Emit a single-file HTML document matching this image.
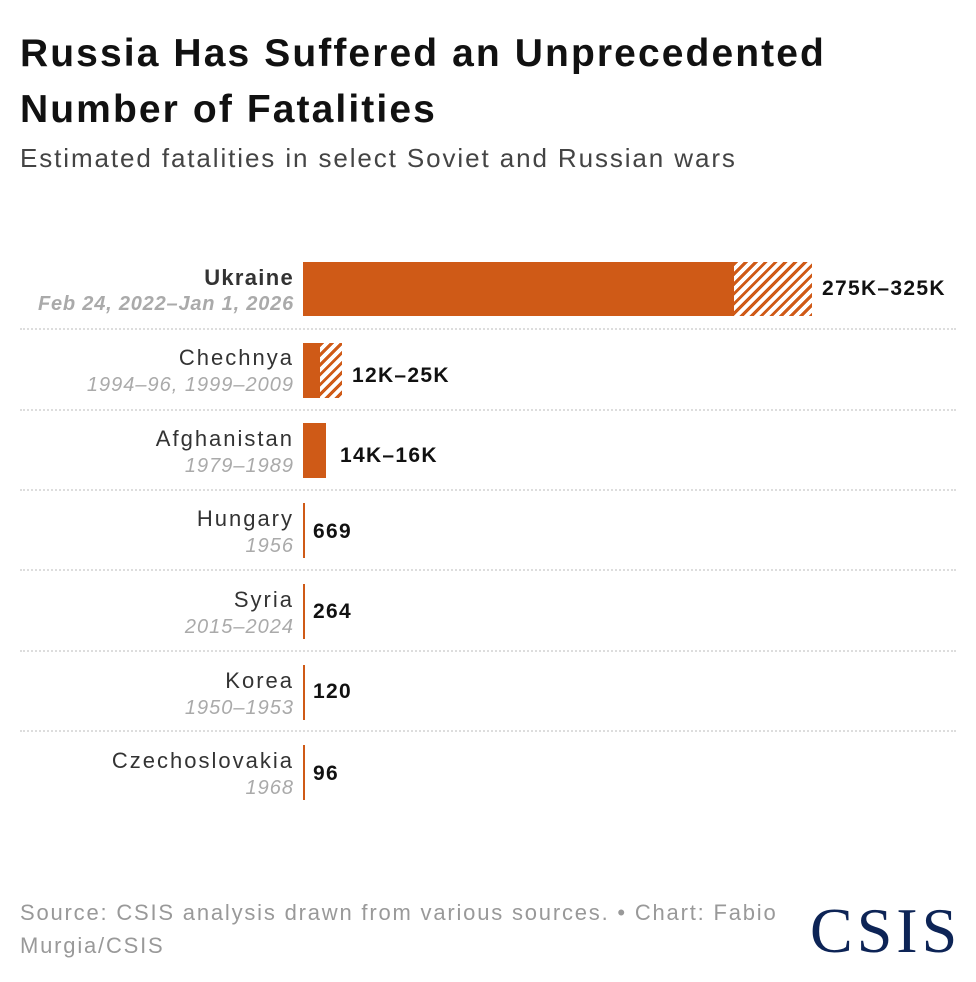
<!DOCTYPE html>
<html><head><meta charset="utf-8"><style>
body{margin:0;background:#fff;width:976px;height:982px;overflow:hidden;font-family:"Liberation Sans",sans-serif;position:relative}
.a{position:absolute;white-space:nowrap}
.t{left:20px;font-size:39px;letter-spacing:2.1px;font-weight:bold;color:#111}
.n{right:682px;font-size:22px;letter-spacing:2px;color:#333;text-align:right}
.y{right:682px;font-size:20px;letter-spacing:1px;color:#aaa;font-style:italic;text-align:right}
.v{font-size:21px;letter-spacing:1.3px;font-weight:bold;color:#111}
.sep{position:absolute;left:20px;width:936px;border-top:2px dotted #ddd;height:0}
.bar{position:absolute;background:#cf5a17}
.h{position:absolute;background:repeating-linear-gradient(135deg,#cf5a17 0 3px,#fff 3px 7px)}
</style></head><body>
<div class="a t" style="top:32px">Russia Has Suffered an Unprecedented</div>
<div class="a t" style="top:88px">Number of Fatalities</div>
<div class="a" style="left:20px;top:143px;font-size:26px;letter-spacing:1.9px;color:#444">Estimated fatalities in select Soviet and Russian wars</div>

<div class="a n" style="top:265px;font-weight:bold;letter-spacing:1.3px">Ukraine</div>
<div class="a y" style="top:293px;font-weight:bold;letter-spacing:0.8px">Feb 24, 2022–Jan 1, 2026</div>
<div class="bar" style="left:303px;top:262px;width:431px;height:54px"></div>
<div class="h" style="left:734px;top:262px;width:78px;height:54px"></div>
<div class="a v" style="left:822px;top:277px">275K–325K</div>
<div class="sep" style="top:328px"></div>

<div class="a n" style="top:345px">Chechnya</div>
<div class="a y" style="top:374px">1994–96, 1999–2009</div>
<div class="bar" style="left:303px;top:343px;width:17px;height:55px"></div>
<div class="h" style="left:320px;top:343px;width:22px;height:55px"></div>
<div class="a v" style="left:352px;top:364px">12K–25K</div>
<div class="sep" style="top:409px"></div>

<div class="a n" style="top:426px">Afghanistan</div>
<div class="a y" style="top:455px">1979–1989</div>
<div class="bar" style="left:303px;top:423px;width:23px;height:55px"></div>
<div class="a v" style="left:340px;top:444px">14K–16K</div>
<div class="sep" style="top:489px"></div>

<div class="a n" style="top:506px">Hungary</div>
<div class="a y" style="top:535px">1956</div>
<div class="bar" style="left:303px;top:503px;width:2px;height:55px"></div>
<div class="a v" style="left:313px;top:520px">669</div>
<div class="sep" style="top:569px"></div>

<div class="a n" style="top:587px">Syria</div>
<div class="a y" style="top:616px">2015–2024</div>
<div class="bar" style="left:303px;top:584px;width:2px;height:55px"></div>
<div class="a v" style="left:313px;top:600px">264</div>
<div class="sep" style="top:650px"></div>

<div class="a n" style="top:668px">Korea</div>
<div class="a y" style="top:697px">1950–1953</div>
<div class="bar" style="left:303px;top:665px;width:2px;height:55px"></div>
<div class="a v" style="left:313px;top:680px">120</div>
<div class="sep" style="top:730px"></div>

<div class="a n" style="top:748px">Czechoslovakia</div>
<div class="a y" style="top:777px">1968</div>
<div class="bar" style="left:303px;top:745px;width:2px;height:55px"></div>
<div class="a v" style="left:313px;top:762px">96</div>

<div class="a" style="left:20px;top:896px;font-size:22px;letter-spacing:1.8px;color:#999;line-height:33px">Source: CSIS analysis drawn from various sources. • Chart: Fabio<br>Murgia/CSIS</div>
<div class="a" style="left:810px;top:894px;font-family:'Liberation Serif',serif;font-size:64px;letter-spacing:4px;color:#0d2456">CSIS</div>
</body></html>
